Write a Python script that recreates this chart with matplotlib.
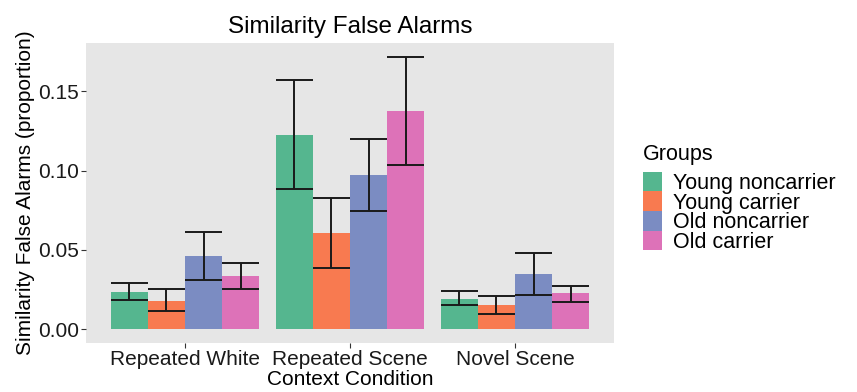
import numpy as np
import matplotlib
matplotlib.use("Agg")
import matplotlib.pyplot as plt
from matplotlib.patches import Rectangle

plt.rcParams["font.family"] = ["Liberation Sans", "DejaVu Sans"]

conditions = ["Repeated White", "Repeated Scene", "Novel Scene"]
groups = ["Young noncarrier", "Young carrier", "Old noncarrier", "Old carrier"]
colors = ["#55B68F", "#F87A50", "#7B8CC2", "#DD72B8"]

# bar heights, one list per group (order of conditions)
means = {
    "Young noncarrier": [0.0237, 0.1225, 0.0190],
    "Young carrier":    [0.0180, 0.0607, 0.0155],
    "Old noncarrier":   [0.0459, 0.0969, 0.0350],
    "Old carrier":      [0.0337, 0.1373, 0.0226],
}
err_lo = {
    "Young noncarrier": [0.0187, 0.0884, 0.0151],
    "Young carrier":    [0.0113, 0.0385, 0.0096],
    "Old noncarrier":   [0.0308, 0.0743, 0.0216],
    "Old carrier":      [0.0251, 0.1034, 0.0174],
}
err_hi = {
    "Young noncarrier": [0.0290, 0.1570, 0.0239],
    "Young carrier":    [0.0253, 0.0829, 0.0212],
    "Old noncarrier":   [0.0610, 0.1196, 0.0482],
    "Old carrier":      [0.0419, 0.1717, 0.0274],
}

W, H = 857, 392
fig = plt.figure(figsize=(W / 100, H / 100), dpi=100)
ax = fig.add_axes([86 / W, 1 - 343 / H, (614 - 86) / W, (343 - 43) / H])
ax.set_facecolor("#E6E6E6")

x = np.arange(1, len(conditions) + 1)
w = 0.9 / len(groups)
for i, (g, c) in enumerate(zip(groups, colors)):
    xs = x - 0.45 + w * (i + 0.5)
    m = np.array(means[g])
    lo = np.array(err_lo[g])
    hi = np.array(err_hi[g])
    ax.bar(xs, m, width=w, color=c, zorder=2)
    ax.vlines(xs, lo, hi, color="#1a1a1a", lw=1.4, zorder=3)
    ax.hlines(lo, xs - w / 2, xs + w / 2, color="#1a1a1a", lw=1.4, zorder=3)
    ax.hlines(hi, xs - w / 2, xs + w / 2, color="#1a1a1a", lw=1.4, zorder=3)

ax.set_xlim(0.4, 3.6)
ax.set_ylim(-0.0086, 0.1803)
ax.set_xticks(x)
ax.set_xticklabels(conditions, fontsize=15, color="#1a1a1a")
ax.set_yticks([0, 0.05, 0.10, 0.15])
ax.set_yticklabels(["0.00", "0.05", "0.10", "0.15"], fontsize=15, color="#1a1a1a")
ax.tick_params(length=3.5, width=0.8, color="#333333", pad=1.5)
for s in ax.spines.values():
    s.set_visible(False)

ax.set_xlabel("Context Condition", fontsize=15, labelpad=1)
ax.set_ylabel("Similarity False Alarms (proportion)", fontsize=15, labelpad=2)
ax.set_title("Similarity False Alarms", fontsize=17.5, pad=7)

# legend drawn by hand to get the tight ggplot key spacing
fig.text(643 / W, 1 - 160 / H, "Groups", fontsize=15.5, ha="left", va="baseline")
row_h = 19.5
for i, (g, c) in enumerate(zip(groups, colors)):
    top = 172 + i * row_h
    fig.patches.append(Rectangle((643 / W, 1 - (top + row_h) / H), 19 / W, row_h / H,
                                 transform=fig.transFigure, facecolor=c,
                                 edgecolor="none"))
    fig.text(673 / W, 1 - (top + 17.5) / H, g, fontsize=15.5, ha="left",
             va="baseline")

fig.savefig("out.png", dpi=100)
